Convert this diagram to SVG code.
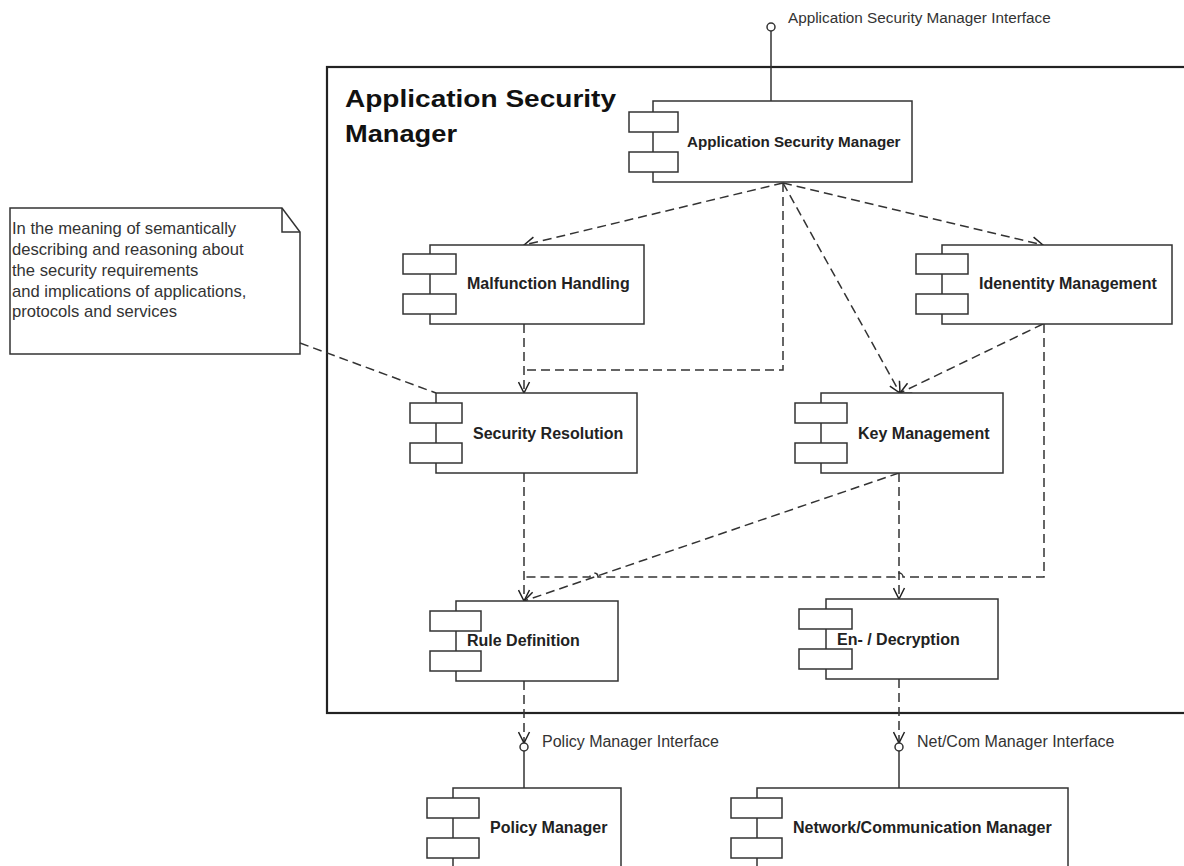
<svg xmlns="http://www.w3.org/2000/svg" width="1184" height="866" viewBox="0 0 1184 866">
<style>
.box{fill:#fff;stroke:#333;stroke-width:1.5}
.frame{fill:#fff;stroke:#222;stroke-width:2.2}
.nt{font-family:"Liberation Sans",Arial,sans-serif;font-weight:bold;font-size:16px;fill:#222}
.lb{font-family:"Liberation Sans",Arial,sans-serif;font-size:16px;fill:#333}
.note{font-family:"Liberation Sans",Arial,sans-serif;font-size:16.6px;fill:#333}
.title{font-family:"Liberation Sans",Arial,sans-serif;font-weight:bold;font-size:23px;fill:#111}
.dash{fill:none;stroke:#333;stroke-width:1.5;stroke-dasharray:9 5}
.solid{fill:none;stroke:#333;stroke-width:1.5}
</style>
<defs>
<marker id="open" viewBox="0 0 13 13" refX="12" refY="6.5" markerWidth="13" markerHeight="13" markerUnits="userSpaceOnUse" orient="auto">
<path d="M1,1 L12,6.5 L1,12" fill="none" stroke="#222" stroke-width="1.5"/>
</marker>
</defs>
<rect width="1184" height="866" fill="#fff"/>

<g id="frame">
<rect class="frame" x="327" y="67" width="862" height="646"/>
<text class="title" x="345" y="107" textLength="271" lengthAdjust="spacingAndGlyphs">Application Security</text>
<text class="title" x="345" y="142" textLength="112" lengthAdjust="spacingAndGlyphs">Manager</text>
</g>

<g id="note">
<path class="box" d="M10,208 H282 L300,232 V354 H10 Z"/>
<path class="solid" d="M282,208 V232 H300"/>
<text class="note" x="12" y="234">In the meaning of semantically</text>
<text class="note" x="12" y="255">describing and reasoning about</text>
<text class="note" x="12" y="276">the security requirements</text>
<text class="note" x="12" y="297">and implications of applications,</text>
<text class="note" x="12" y="317">protocols and services</text>
</g>

<g id="connectors">
<line class="solid" x1="771" y1="31" x2="771" y2="101"/>
<circle cx="771" cy="27" r="4" fill="#fff" stroke="#333" stroke-width="1.5"/>
<text class="lb" x="788" y="23" style="font-size:15.3px">Application Security Manager Interface</text>
<line class="dash" x1="783" y1="183" x2="524" y2="245" marker-end="url(#open)"/>
<line class="dash" x1="783" y1="183" x2="1043" y2="245" marker-end="url(#open)"/>
<line class="dash" x1="783" y1="183" x2="900" y2="393" marker-end="url(#open)"/>
<path class="dash" d="M783,183 V370 H524"/>
<line class="dash" x1="524" y1="324" x2="524" y2="393" marker-end="url(#open)"/>
<line class="dash" x1="1043" y1="324" x2="900" y2="393" marker-end="url(#open)"/>
<path class="dash" d="M1044,324 V577 H903 A4,4 0 0 0 895,577 H598 A4,4 0 0 0 590,577 H524"/>
<line class="dash" x1="524" y1="473" x2="524" y2="601" marker-end="url(#open)"/>
<line class="dash" x1="899" y1="473" x2="524" y2="601" marker-end="url(#open)"/>
<line class="dash" x1="899" y1="473" x2="899" y2="599" marker-end="url(#open)"/>
<line class="dash" x1="524" y1="681" x2="524" y2="743" marker-end="url(#open)"/>
<circle cx="524" cy="747" r="4" fill="#fff" stroke="#333" stroke-width="1.5"/>
<line class="solid" x1="524" y1="751" x2="524" y2="788"/>
<text class="lb" x="542" y="747">Policy Manager Interface</text>
<line class="dash" x1="899" y1="679" x2="899" y2="743" marker-end="url(#open)"/>
<circle cx="899" cy="747" r="4" fill="#fff" stroke="#333" stroke-width="1.5"/>
<line class="solid" x1="899" y1="751" x2="899" y2="788"/>
<text class="lb" x="917" y="747">Net/Com Manager Interface</text>
<line class="dash" x1="300" y1="343" x2="436" y2="393"/>
</g>

<g id="asm">
<rect class="box" x="653" y="101" width="259" height="81"/>
<rect class="box" x="629" y="112" width="49" height="20"/>
<rect class="box" x="629" y="152" width="49" height="20"/>
<text class="nt" x="687" y="147" style="font-size:15.2px">Application Security Manager</text>
</g>

<g id="malfunction">
<rect class="box" x="430" y="245" width="214" height="79"/>
<rect class="box" x="403" y="254" width="53" height="20"/>
<rect class="box" x="403" y="294" width="53" height="20"/>
<text class="nt" x="467" y="289">Malfunction Handling</text>
</g>

<g id="identity">
<rect class="box" x="942" y="245" width="230" height="79"/>
<rect class="box" x="916" y="254" width="52" height="20"/>
<rect class="box" x="916" y="294" width="52" height="20"/>
<text class="nt" x="979" y="289">Idenentity Management</text>
</g>

<g id="security-resolution">
<rect class="box" x="436" y="393" width="201" height="80"/>
<rect class="box" x="410" y="403" width="52" height="20"/>
<rect class="box" x="410" y="443" width="52" height="20"/>
<text class="nt" x="473" y="439">Security Resolution</text>
</g>

<g id="key-management">
<rect class="box" x="821" y="393" width="182" height="80"/>
<rect class="box" x="795" y="403" width="52" height="20"/>
<rect class="box" x="795" y="443" width="52" height="20"/>
<text class="nt" x="858" y="439">Key Management</text>
</g>

<g id="rule-definition">
<rect class="box" x="456" y="601" width="162" height="80"/>
<rect class="box" x="430" y="611" width="51" height="20"/>
<rect class="box" x="430" y="651" width="51" height="20"/>
<text class="nt" x="467" y="646">Rule Definition</text>
</g>

<g id="en-decryption">
<rect class="box" x="826" y="599" width="172" height="80"/>
<rect class="box" x="799" y="609" width="53" height="20"/>
<rect class="box" x="799" y="649" width="53" height="20"/>
<text class="nt" x="837" y="645">En- / Decryption</text>
</g>

<g id="policy-manager">
<rect class="box" x="453" y="788" width="168" height="82"/>
<rect class="box" x="427" y="798" width="52" height="20"/>
<rect class="box" x="427" y="838" width="52" height="20"/>
<text class="nt" x="490" y="833">Policy Manager</text>
</g>

<g id="network-manager">
<rect class="box" x="757" y="788" width="311" height="82"/>
<rect class="box" x="731" y="798" width="51" height="20"/>
<rect class="box" x="731" y="838" width="51" height="20"/>
<text class="nt" x="793" y="833">Network/Communication Manager</text>
</g>
</svg>
